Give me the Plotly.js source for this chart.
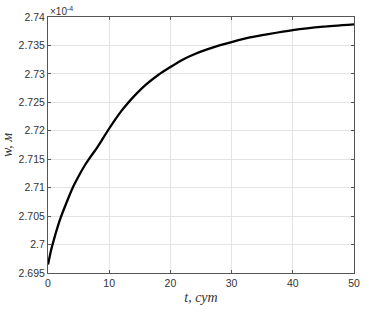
<!DOCTYPE html>
<html>
<head>
<meta charset="utf-8">
<script src="https://cdn.plot.ly/plotly-3.0.1.min.js"></script>
<style>html,body{margin:0;padding:0;background:#fff;}#chart{width:369px;height:312px;}</style>
</head>
<body>
<div id="chart"></div>
<script>
// time, days
const tDays = [0, 0.5, 1, 2, 3, 4, 5, 6, 7, 8, 8.6, 9, 10, 11, 12, 13, 14, 16, 18, 20, 22, 24, 26, 28, 30, 33, 36, 40, 45, 50];
// deflection w, in units of 1e-4 m
const wVals = [2.6965, 2.6990, 2.7010, 2.7045, 2.7073, 2.7099, 2.7120, 2.7139, 2.7155, 2.7170, 2.7180, 2.7187, 2.7204, 2.7220, 2.7235, 2.7248, 2.7260, 2.7281, 2.7298, 2.7312, 2.7325, 2.7335, 2.7343, 2.7350, 2.7356, 2.7364, 2.7370, 2.7377, 2.7383, 2.7387];
const xTickVals = [0, 10, 20, 30, 40, 50];
const xTickText = ['0', '10', '20', '30', '40', '50'];
const yTickVals = [2.695, 2.7, 2.705, 2.71, 2.715, 2.72, 2.725, 2.73, 2.735, 2.74];
const yTickText = ['2.695', '2.7', '2.705', '2.71', '2.715', '2.72', '2.725', '2.73', '2.735', '2.74'];

const axisCommon = {
  showgrid: true, gridcolor: '#e3e3e3', gridwidth: 1,
  showline: true, linecolor: '#555', linewidth: 1, mirror: 'ticks',
  ticks: 'inside', ticklen: 3, tickcolor: '#555',
  zeroline: false,
  tickfont: {family: 'Liberation Sans, Arial, sans-serif', size: 10.5, color: '#333'}
};

Plotly.newPlot('chart', [{
  x: tDays, y: wVals, type: 'scatter', mode: 'lines',
  line: {color: '#000', width: 2.3, shape: 'spline', smoothing: 0.5}
}], {
  width: 369, height: 312,
  margin: {l: 48, r: 15, t: 17, b: 39},
  paper_bgcolor: '#fff', plot_bgcolor: '#fff',
  showlegend: false,
  xaxis: Object.assign({}, axisCommon, {
    range: [0, 50], tickvals: xTickVals, ticktext: xTickText,
    title: {text: 't, сут', standoff: 4, font: {family: 'Liberation Serif, Times New Roman, serif', size: 14, color: '#333', style: 'italic'}}
  }),
  yaxis: Object.assign({}, axisCommon, {
    range: [2.695, 2.74], tickvals: yTickVals, ticktext: yTickText,
    title: {text: 'w, м', standoff: 5, font: {family: 'Liberation Serif, Times New Roman, serif', size: 14, color: '#333', style: 'italic'}}
  }),
  annotations: [{
    text: '×10<sup>-4</sup>', xref: 'paper', yref: 'paper', x: 0, y: 1,
    xanchor: 'left', yanchor: 'bottom', showarrow: false, yshift: -2,
    font: {family: 'Liberation Sans, Arial, sans-serif', size: 10, color: '#333'}
  }]
}, {staticPlot: true});
</script>
</body>
</html>
